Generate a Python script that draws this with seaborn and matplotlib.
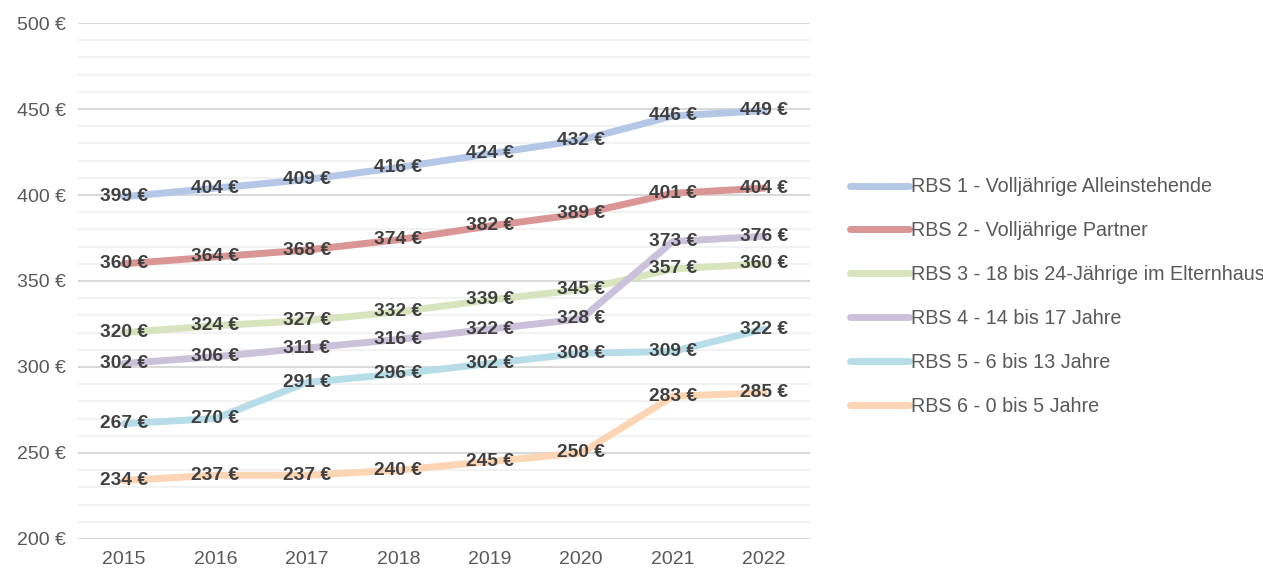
import pandas as pd
import matplotlib.pyplot as plt
import seaborn as sns

years = [2015, 2016, 2017, 2018, 2019, 2020, 2021, 2022]

rbs1 = [399, 404, 409, 416, 424, 432, 446, 449]
rbs2 = [360, 364, 368, 374, 382, 389, 401, 404]
rbs3 = [320, 324, 327, 332, 339, 345, 357, 360]
rbs4 = [302, 306, 311, 316, 322, 328, 373, 376]
rbs5 = [267, 270, 291, 296, 302, 308, 309, 322]
rbs6 = [234, 237, 237, 240, 245, 250, 283, 285]

names = [
    "RBS 1 - Volljährige Alleinstehende",
    "RBS 2 - Volljährige Partner",
    "RBS 3 - 18 bis 24-Jährige im Elternhaus",
    "RBS 4 - 14 bis 17 Jahre",
    "RBS 5 - 6 bis 13 Jahre",
    "RBS 6 - 0 bis 5 Jahre",
]
colors = ["#b4c7e7", "#d99694", "#d7e4bd", "#ccc1da", "#b7dee8", "#fcd5b5"]

series = [rbs1, rbs2, rbs3, rbs4, rbs5, rbs6]
rows = []
for name, vals in zip(names, series):
    for y, v in zip(years, vals):
        rows.append({"Jahr": y, "Betrag": v, "Stufe": name})
df = pd.DataFrame(rows)

sns.set_style("white")
plt.rcParams['font.family'] = ['Liberation Sans Narrow', 'Liberation Sans', 'DejaVu Sans']

fig = plt.figure(figsize=(12.63, 5.77), dpi=100)
ax = fig.add_axes([0.0618, 0.066, 0.5795, 0.894])

sns.lineplot(data=df, x="Jahr", y="Betrag", hue="Stufe", palette=colors,
             linewidth=5, solid_capstyle="round", ax=ax, zorder=3)

# data labels centred on the points
for name, vals in zip(names, series):
    for y, v in zip(years, vals):
        ax.text(y, v, f"{v} €", ha="center", va="center", fontsize=13.8,
                fontweight="bold", color="#404040", zorder=5)

ax.set_xlim(2014.5, 2022.5)
ax.set_ylim(200, 500)
ax.set_xticks(years)
ax.set_xticklabels([str(y) for y in years])
ax.set_yticks(range(200, 501, 50))
ax.set_yticklabels([f"{t} €" for t in range(200, 501, 50)])
ax.set_yticks(range(200, 501, 10), minor=True)
ax.tick_params(axis="both", which="both", length=0, labelsize=14, colors="#595959", pad=9)
ax.grid(axis="y", which="major", color="#d9d9d9", linewidth=1.5, zorder=0)
ax.grid(axis="y", which="minor", color="#f2f2f2", linewidth=1.5, zorder=0)
ax.set_axisbelow(True)
for s in ax.spines.values():
    s.set_visible(False)
ax.set_xlabel("")
ax.set_ylabel("")

leg = ax.legend(loc="center left", bbox_to_anchor=(0.673, 0.486),
                bbox_transform=fig.transFigure, frameon=False, fontsize=14.2,
                handlelength=3.0, handletextpad=0.1, labelspacing=1.26,
                borderpad=0, borderaxespad=0)
for t in leg.get_texts():
    t.set_color("#595959")
for h in leg.get_lines():
    h.set_linewidth(5)
    h.set_solid_capstyle("round")

fig.savefig("out.png", dpi=100)
